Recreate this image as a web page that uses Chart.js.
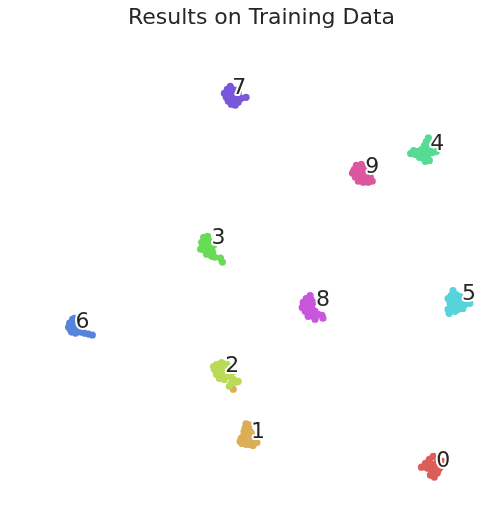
<!DOCTYPE html>
<html>
<head>
<meta charset="utf-8">
<script src="https://cdn.jsdelivr.net/npm/chart.js@4"></script>
<style>
  html, body { margin: 0; padding: 0; background: #ffffff; }
  #wrap { width: 499px; height: 528px; }
</style>
</head>
<body>
<div id="wrap"><canvas id="c" width="499" height="528"></canvas></div>
<script>
// ---- data (embedding coordinates per digit class) ----
const titleText = 'Results on Training Data';
const digitLabels = ['0','1','2','3','4','5','6','7','8','9'];
const digitColors = ['#db5f57','#dbae57','#b9db57','#69db57','#57db94','#57d3db','#5784db','#7957db','#c957db','#db579e'];

const cluster0 = [[424,470],[428,466],[432,462],[436,459],[440,462],[434,467],[438,467],[442,466],[430,471],[434,473],[438,472],[443,470],[446,468],[436,477],[440,476],[433,478],[437,480],[428,468],[441,473],[445,464]];
const cluster1 = [[246,426],[249,427],[245,430],[249,432],[244,434],[247,436],[251,435],[243,439],[246,440],[250,440],[243,443],[247,444],[251,444],[255,442],[242,446],[246,447],[250,447],[254,446],[248,438],[233,391],[240,444],[253,448],[257,445],[252,438],[241,441]];
const cluster2 = [[216,366],[221,364],[226,365],[230,368],[214,371],[219,370],[224,370],[228,372],[216,376],[221,376],[226,377],[230,378],[219,380],[224,381],[233,381],[236,384],[231,385],[238,383],[213,368],[233,373],[229,388]];
const cluster3 = [[207,236],[204,239],[208,240],[201,242],[205,243],[210,244],[202,246],[206,247],[211,248],[200,249],[204,250],[208,251],[212,252],[206,254],[211,256],[214,257],[220,258],[222,262],[213,245],[203,237]];
const cluster4 = [[431,136],[429,140],[427,144],[416,149],[420,150],[424,148],[428,149],[432,147],[413,152],[418,153],[423,152],[427,153],[431,152],[435,151],[439,150],[422,156],[426,157],[430,156],[428,160],[432,159],[419,150]];
const cluster5 = [[456,291],[454,296],[459,295],[463,297],[451,299],[456,300],[461,301],[466,300],[470,302],[453,304],[458,305],[463,306],[468,305],[473,304],[451,310],[456,309],[461,310],[466,309],[452,314],[458,312]];
const cluster6 = [[70,320],[74,321],[67,324],[71,325],[75,326],[66,328],[70,329],[74,330],[78,329],[69,333],[73,334],[78,333],[82,334],[86,335],[90,336],[72,319],[68,331]];
const cluster7 = [[230,84],[227,87],[232,87],[236,88],[224,91],[229,91],[234,92],[238,91],[226,95],[231,95],[236,96],[241,96],[246,95],[228,99],[233,99],[238,100],[231,102],[235,103]];
const cluster8 = [[311,296],[307,299],[312,300],[304,303],[309,304],[314,303],[303,308],[308,308],[313,309],[306,312],[311,313],[316,312],[309,317],[314,317],[319,315],[323,316],[324,319],[316,320]];
const cluster9 = [[358,164],[363,163],[356,168],[361,168],[366,167],[354,172],[359,172],[364,172],[369,171],[357,176],[362,176],[367,177],[372,176],[360,180],[365,181],[370,181],[374,180],[355,170]];

// class label anchors (median of each class in the embedding)
const labelAnchorX = [439, 251, 225, 211, 433, 465, 73, 232, 317, 367];
const labelAnchorY = [470, 440, 373, 244, 148, 300, 329, 92, 307, 172];

const clusters = [cluster0, cluster1, cluster2, cluster3, cluster4, cluster5, cluster6, cluster7, cluster8, cluster9];

// ---- chart ----
const labelPlugin = {
  id: 'clusterLabels',
  afterDatasetsDraw(chart) {
    const ctx = chart.ctx;
    const xs = chart.scales.x, ys = chart.scales.y;
    ctx.save();
    ctx.font = '22px "DejaVu Sans"';
    ctx.textAlign = 'left';
    ctx.textBaseline = 'alphabetic';
    ctx.lineJoin = 'round';
    digitLabels.forEach((lab, i) => {
      const px = xs.getPixelForValue(labelAnchorX[i]);
      const py = ys.getPixelForValue(labelAnchorY[i]);
      ctx.strokeStyle = '#ffffff';
      ctx.lineWidth = 4;
      ctx.strokeText(lab, px, py);
      ctx.fillStyle = '#262626';
      ctx.fillText(lab, px, py);
    });
    ctx.restore();
  },
  afterDraw(chart) {
    const ctx = chart.ctx;
    ctx.save();
    ctx.font = '22px "DejaVu Sans"';
    ctx.textAlign = 'center';
    ctx.textBaseline = 'alphabetic';
    ctx.fillStyle = '#262626';
    ctx.fillText(titleText, 261.5, 24);
    ctx.restore();
  }
};

new Chart(document.getElementById('c'), {
  type: 'scatter',
  data: {
    datasets: clusters.map((pts, i) => ({
      label: digitLabels[i],
      data: pts.map(p => ({ x: p[0], y: p[1] })),
      backgroundColor: digitColors[i],
      borderWidth: 0,
      pointRadius: 3.6,
      pointHoverRadius: 3.6,
      order: 9 - i
    }))
  },
  options: {
    responsive: false,
    animation: false,
    layout: { padding: 0 },
    plugins: { legend: { display: false }, tooltip: { enabled: false }, title: { display: false } },
    scales: {
      x: { type: 'linear', min: 0, max: 499, display: false },
      y: { type: 'linear', min: 0, max: 528, reverse: true, display: false }
    }
  },
  plugins: [labelPlugin]
});
</script>
</body>
</html>
